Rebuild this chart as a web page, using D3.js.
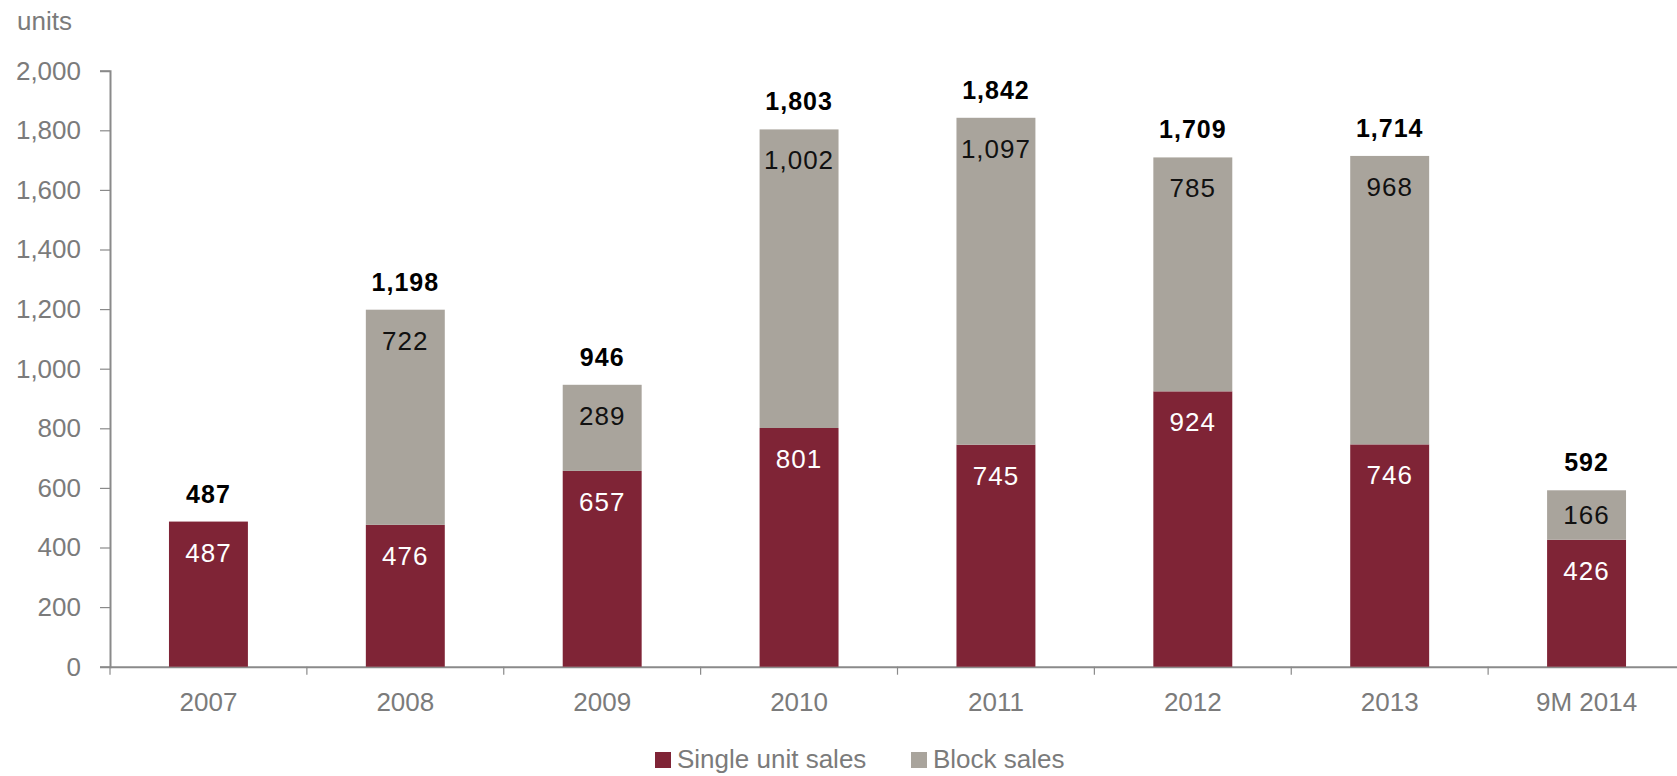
<!DOCTYPE html>
<html>
<head>
<meta charset="utf-8">
<script src="https://cdn.jsdelivr.net/npm/d3@7"></script>
<style>
  body { margin: 0; background: #fff; }
  svg { display: block; font-family: "Liberation Sans", Arial, sans-serif; }
</style>
</head>
<body>
<svg id="chart" width="1677" height="776"></svg>
<script>
// chart data
const years = ['2007', '2008', '2009', '2010', '2011', '2012', '2013', '9M 2014'];
const singleSales = [487, 476, 657, 801, 745, 924, 746, 426];
const blockSales = [0, 722, 289, 1002, 1097, 785, 968, 166];
const totals = [487, 1198, 946, 1803, 1842, 1709, 1714, 592];
const yTicks = [0, 200, 400, 600, 800, 1000, 1200, 1400, 1600, 1800, 2000];
const seriesNames = ['Single unit sales', 'Block sales'];
const seriesColors = ['#7f2436', '#a9a49c'];

const svg = d3.select('#chart');
const fmt = d3.format(',');

const x = d3.scaleBand().domain(years).range([110, 1685]).padding(0);
const y = d3.scaleLinear().domain([0, 2000]).range([666.7, 70.7]);
const barW = x.bandwidth() * 0.401;

const gridColor = '#8a8a8a';
const textColor = '#7b7b7b';

// y axis
const yAxis = svg.append('g')
  .attr('transform', 'translate(110,0)')
  .call(d3.axisLeft(y).tickValues(yTicks).tickFormat(fmt).tickSize(10).tickPadding(19));
yAxis.select('.domain').attr('stroke', gridColor).attr('stroke-width', 2);
yAxis.selectAll('.tick line').attr('stroke', gridColor).attr('stroke-width', 1.2);
yAxis.selectAll('.tick text').attr('fill', textColor).style('font-size', '26px');

// x axis with ticks between categories
const xAxis = svg.append('g')
  .attr('transform', 'translate(0,' + y(0) + ')')
  .call(d3.axisBottom(x).tickSize(0).tickPadding(26));
xAxis.select('.domain').attr('stroke', gridColor).attr('stroke-width', 2);
xAxis.selectAll('.tick text').attr('fill', textColor).style('font-size', '26px');
xAxis.selectAll('.sep')
  .data(years)
  .enter().append('line')
  .attr('class', 'sep')
  .attr('x1', d => x(d)).attr('x2', d => x(d))
  .attr('y1', 0).attr('y2', 8)
  .attr('stroke', gridColor).attr('stroke-width', 1.2);

// units label
svg.append('text')
  .attr('x', 17).attr('y', 30)
  .attr('fill', textColor)
  .style('font-size', '26px')
  .text('units');

// stacked bars
const rows = years.map((yr, i) => ({ year: yr, single: singleSales[i], block: blockSales[i], total: totals[i] }));
const stack = d3.stack().keys(['single', 'block'])(rows);

const layers = svg.selectAll('.layer')
  .data(stack)
  .enter().append('g')
  .attr('class', 'layer')
  .attr('fill', (d, i) => seriesColors[i]);

layers.selectAll('rect')
  .data(d => d.filter(s => s[1] - s[0] > 0))
  .enter().append('rect')
  .attr('x', d => x(d.data.year) + (x.bandwidth() - barW) / 2)
  .attr('y', d => y(d[1]))
  .attr('width', barW)
  .attr('height', d => y(d[0]) - y(d[1]));

// segment labels, near top of each segment
layers.each(function(layer, li) {
  d3.select(this).selectAll('text')
    .data(layer.filter(s => s[1] - s[0] > 0))
    .enter().append('text')
    .attr('x', d => x(d.data.year) + x.bandwidth() / 2)
    .attr('y', d => {
      const h = y(d[0]) - y(d[1]);
      return y(d[1]) + Math.min(40, h / 2 + 9);
    })
    .attr('text-anchor', 'middle')
    .attr('fill', li === 0 ? '#ffffff' : '#111111')
    .style('font-size', '26px')
    .style('letter-spacing', '1px')
    .text(d => fmt(d[1] - d[0]));
});

// total labels
svg.append('g').selectAll('text')
  .data(rows)
  .enter().append('text')
  .attr('x', d => x(d.year) + x.bandwidth() / 2)
  .attr('y', d => y(d.total) - 19)
  .attr('text-anchor', 'middle')
  .attr('fill', '#000')
  .style('font-size', '25px')
  .style('font-weight', 'bold')
  .style('letter-spacing', '1px')
  .text(d => fmt(d.total));

// legend
const legendX = [655, 911];
const legend = svg.append('g').selectAll('g')
  .data(seriesNames)
  .enter().append('g')
  .attr('transform', (d, i) => 'translate(' + legendX[i] + ',752)');
legend.append('rect')
  .attr('width', 16).attr('height', 16)
  .attr('fill', (d, i) => seriesColors[i]);
legend.append('text')
  .attr('x', 22).attr('y', 16)
  .attr('fill', textColor)
  .style('font-size', '26px')
  .text(d => d);
</script>
</body>
</html>
